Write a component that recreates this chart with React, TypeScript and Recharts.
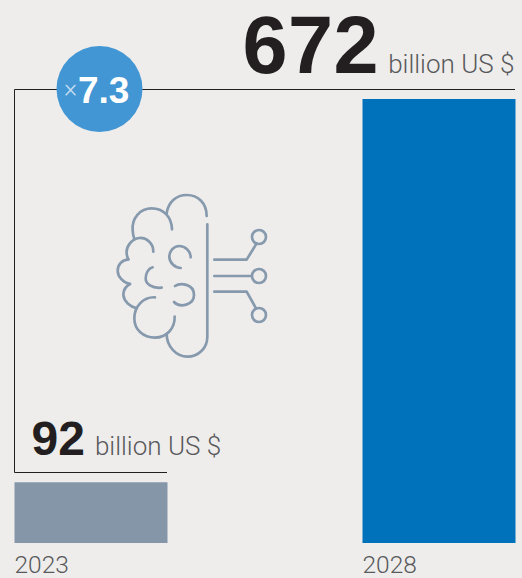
import { BarChart, Bar, Cell, LabelList, XAxis, YAxis } from 'recharts'

const years = ['2023', '2028']
const values = [92, 672]
const barColors = ['#8596A8', '#0072BC']
const unit = 'billion US $'
const multiple = '7.3'

const chartData = years.map((year, i) => ({ year, value: values[i] }))

const sans = '"Liberation Sans", Arial, sans-serif'
const lightSans = 'Roboto, "Liberation Sans", sans-serif'
const iconColor = '#8699AD'

// big value + unit, the two bars sit their text differently
const valueStyles = [
  { dx: 17, dy: -27, size: 48, gap: 10, spacing: 0 },
  { dx: -120, dy: -26, size: 81, gap: 9, spacing: 0.5 },
]

function ValueLabel({ x, y, value, index }: any) {
  const s = valueStyles[index]
  return (
    <text x={x + s.dx} y={y + s.dy} fontFamily={sans}>
      <tspan fontSize={s.size} fontWeight={700} fill="#231F20" letterSpacing={s.spacing}>{value}</tspan>
      <tspan dx={s.gap} fontSize={26} fontWeight={300} fontFamily={lightSans} fill="#58595B">{unit}</tspan>
    </text>
  )
}

function YearTick({ x, y, payload }: any) {
  return (
    <text x={x - 76} y={y + 22} fontFamily={lightSans} fontWeight={300} fontSize={24.5} fill="#58595B">
      {payload.value}
    </text>
  )
}

// brain with circuit lines, drawn on a 3x grid
function BrainIcon() {
  return (
    <g transform="translate(100 180) scale(0.3333)" fill="none" stroke={iconColor} strokeWidth={8} strokeLinecap="round" strokeLinejoin="round">
      <path d="M320 108 C320 70 295 45 260 45 C230 45 205 65 200 100" />
      <path d="M216 148 C215 110 190 85 155 85 C120 85 95 115 98 150 C98 160 100 168 103 178" />
      <path d="M160 215 C160 190 140 172 118 174 C95 176 78 200 80 220 C80 225 82 232 85 238" />
      <path d="M85 238 C65 240 53 255 53 272 C53 290 70 308 90 312" />
      <path d="M90 312 C75 320 70 335 70 345 C72 365 90 380 110 385" />
      <path d="M165 352 C130 350 103 380 103 415 C103 450 130 473 165 473 C200 473 225 445 224 410" />
      <path d="M200 462 C200 500 230 530 262 530 C295 530 322 505 322 470 L322 133" />
      <path d="M272 232 C272 212 255 198 238 198 C220 198 208 215 208 230 C208 248 225 264 242 264" />
      <path d="M158 262 C145 265 137 280 137 295 C137 312 155 326 185 323" />
      <path d="M225 318 C240 308 282 310 282 345 C282 375 240 385 222 366" />
      <path d="M343 239 H440 L470 190" />
      <path d="M343 288 H455" />
      <path d="M343 335 H440 L468 385" />
      <circle cx={477} cy={171} r={21} />
      <circle cx={477} cy={288} r={21} />
      <circle cx={477} cy={405} r={21} />
    </g>
  )
}

export default function App() {
  return (
    <div style={{ width: 522, height: 578, background: '#EEEDEC', overflow: 'hidden' }}>
      <style>{'body{margin:0;background:#EEEDEC}'}</style>
      <BarChart
        width={522}
        height={578}
        data={chartData}
        margin={{ top: 89, right: 7, bottom: 0, left: 14 }}
      >
        <XAxis
          dataKey="year"
          scale="point"
          padding={{ left: 76.5, right: 76.5 }}
          axisLine={false}
          tickLine={false}
          tick={<YearTick />}
          interval={0}
          height={35}
        />
        <YAxis hide domain={[0, 687]} />
        <Bar dataKey="value" barSize={153} isAnimationActive={false}>
          {chartData.map((d, i) => (
            <Cell key={d.year} fill={barColors[i]} />
          ))}
          <LabelList dataKey="value" content={<ValueLabel />} />
        </Bar>

        {/* bracket joining the two bars */}
        <path d="M515 89.5 H14.5 V472.5 H167" fill="none" stroke="#231F20" strokeWidth={1} />

        <BrainIcon />

        <circle cx={99.5} cy={89} r={43} fill="#4296D3" />
        <text x={64} y={97} fontFamily={lightSans} fontWeight={300} fontSize={25} fill="#C5DDF0">×</text>
        <text x={78} y={103} fontFamily={sans} fontWeight={700} fontSize={37} fill="#FFFFFF">{multiple}</text>
      </BarChart>
    </div>
  )
}
